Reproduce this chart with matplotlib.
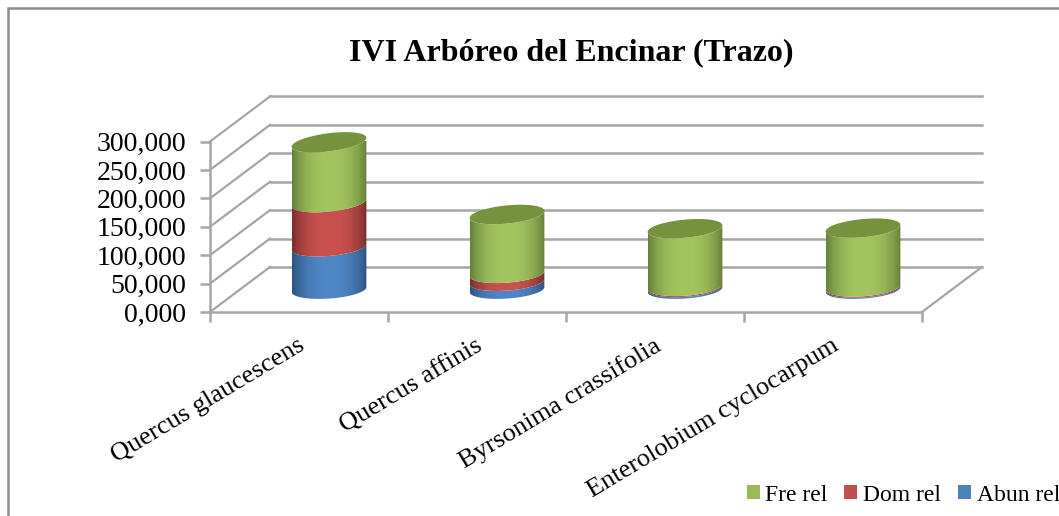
import numpy as np
import matplotlib
matplotlib.use('Agg')
import matplotlib.pyplot as plt
from matplotlib.patches import Patch, Polygon, Rectangle
from matplotlib.transforms import Affine2D

plt.rcParams['font.family'] = ['Liberation Serif', 'DejaVu Serif']

# Datos
especies = ['Quercus glaucescens', 'Quercus affinis', 'Byrsonima crassifolia', 'Enterolobium cyclocarpum']
abun_rel = [75, 14, 3, 2]
dom_rel = [78, 14, 2, 2]
fre_rel = [106, 104, 102, 104]
y_ticks = [0, 50, 100, 150, 200, 250, 300]
y_labels = ['0,000', '50,000', '100,000', '150,000', '200,000', '250,000', '300,000']

series = [('Abun rel', abun_rel, '#4f86c6', '#2b557f'),
          ('Dom rel', dom_rel, '#c9524f', '#7a2e2c'),
          ('Fre rel', fre_rel, '#a3c55f', '#66803a')]

# Desplazamiento oblicuo de la pared trasera, en unidades de datos
DX = 60 / 178
DY = 45 / 0.568
GRIS = '#a6a6a6'

W, H = 1059, 516
fig = plt.figure(figsize=(W / 100, H / 100), dpi=100)
ax = fig.add_axes([210 / W, (H - 312) / H, 712 / W, 170.5 / H])
ax.set_xlim(0, 4)
ax.set_ylim(0, 300)
ax.set_autoscale_on(False)


def curva(cx, y, desde, hasta):
    # Mitad de la elipse inclinada del cilindro a una altura y
    t = np.linspace(desde, hasta, 60)
    inclinacion = (2.5 + 0.0077 * y) / 0.568
    return cx + 0.21 * np.cos(t), y + 0.5 * DY + 16 * np.sin(t) + inclinacion * np.cos(t)


# Pared trasera y suelo
for v in y_ticks:
    ax.plot([0, DX], [v, v + DY], color=GRIS, lw=1.6, clip_on=False, zorder=1)
    ax.plot([DX, 4 + DX], [v + DY, v + DY], color=GRIS, lw=1.8, clip_on=False, zorder=1)
ax.plot([4, 4 + DX], [0, DY], color=GRIS, lw=1.6, clip_on=False, zorder=1)

# Cilindros apilados
degradado = 1 - np.abs(np.linspace(-1, 1, 100)) ** 2.5
for i in range(len(especies)):
    cx = i + 0.5 + DX / 2
    base = 0
    for nombre, valores, claro, oscuro in series:
        tope = base + valores[i]
        x1, y1 = curva(cx, base, np.pi, 2 * np.pi)
        x2, y2 = curva(cx, tope, 2 * np.pi, np.pi)
        poligono = Polygon(np.column_stack([np.r_[x1, x2], np.r_[y1, y2]]), closed=True,
                           facecolor='none', edgecolor='none', clip_on=False)
        ax.add_patch(poligono)
        c1 = np.array(matplotlib.colors.to_rgb(oscuro))
        c2 = np.array(matplotlib.colors.to_rgb(claro))
        imagen = (c1 + (c2 - c1) * degradado[:, None])[None, :, :]
        im = ax.imshow(imagen, extent=[cx - 0.21, cx + 0.21, y1.min() - 5, y2.max() + 5],
                       aspect='auto', origin='lower', zorder=2 + base / 1000, interpolation='bilinear')
        im.set_clip_box(None)
        im.set_clip_path(poligono)
        base = tope
    # Tapa superior
    xa, ya = curva(cx, base, 0, np.pi)
    xb, yb = curva(cx, base, np.pi, 2 * np.pi)
    ax.add_patch(Polygon(np.column_stack([np.r_[xa, xb], np.r_[ya, yb]]), closed=True,
                         facecolor='#76923c', edgecolor='none', zorder=3, clip_on=False))

# Ejes
for lado in ['top', 'right']:
    ax.spines[lado].set_visible(False)
for lado in ['left', 'bottom']:
    ax.spines[lado].set_color(GRIS)
    ax.spines[lado].set_linewidth(1.8)
    ax.spines[lado].set_zorder(1)
ax.set_yticks(y_ticks)
ax.set_yticklabels(y_labels, fontsize=20)
ax.set_xticks(range(len(especies) + 1))
ax.set_xticklabels([])
ax.set_xticks(np.arange(len(especies)) + 0.5, minor=True)
ax.set_xticklabels(especies, minor=True, rotation=31, ha='right', va='top',
                   rotation_mode='anchor', fontsize=19)
ax.tick_params(axis='x', which='minor', length=0, pad=16)
ax.tick_params(axis='both', which='major', color=GRIS, width=1.8, length=7)
ax.tick_params(axis='y', pad=10)
for etiqueta in ax.get_xticklabels(minor=True):
    etiqueta.set_transform(etiqueta.get_transform() + Affine2D().translate(-2, 0))

fig.text(571 / W, 1 - 53 / H, 'IVI Arbóreo del Encinar (Trazo)', fontsize=23, fontweight='bold',
         ha='center', va='center')

# Marco exterior del grafico
fig.add_artist(Rectangle((8 / W, -0.1), 1.2, 1.1 - 8 / H + 0.0, transform=fig.transFigure,
                         facecolor='none', edgecolor='#8c8c8c', lw=1.8))

# Leyenda
manejadores = [Patch(facecolor='#9bbb59', label='Fre rel'),
               Patch(facecolor='#c0504d', label='Dom rel'),
               Patch(facecolor='#4f81bd', label='Abun rel')]
fig.legend(handles=manejadores, ncol=3, loc='lower right', bbox_to_anchor=(1.021, -0.021), frameon=False,
           fontsize=17, handlelength=0.55, handleheight=0.55, handletextpad=0.25, columnspacing=0.7)

fig.savefig('out.png', dpi=100)
